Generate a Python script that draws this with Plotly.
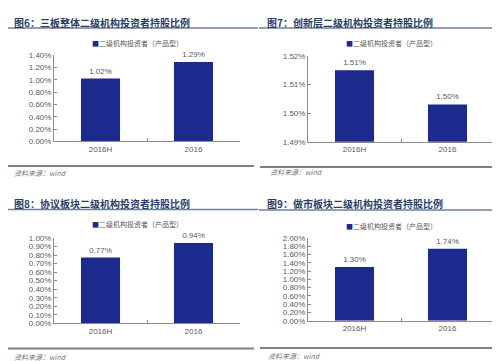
import plotly.graph_objects as go

W, H = 500, 361

categories = ["2016H", "2016"]
titles = [
    "图6：三板整体二级机构投资者持股比例",
    "图7：创新层二级机构投资者持股比例",
    "图8：协议板块二级机构投资者持股比例",
    "图9：做市板块二级机构投资者持股比例",
]
legend_name = "二级机构投资者（产品型）"
source_text = "资料来源：wind"

values_6 = [1.02, 1.29]
labels_6 = ["1.02%", "1.29%"]
values_7 = [1.515, 1.503]
labels_7 = ["1.51%", "1.50%"]
values_8 = [0.77, 0.94]
labels_8 = ["0.77%", "0.94%"]
values_9 = [1.30, 1.74]
labels_9 = ["1.30%", "1.74%"]

ticks_6 = [0.0, 0.2, 0.4, 0.6, 0.8, 1.0, 1.2, 1.4]
ticktext_6 = ["0.00%", "0.20%", "0.40%", "0.60%", "0.80%", "1.00%", "1.20%", "1.40%"]
ticks_7 = [1.49, 1.50, 1.51, 1.52]
ticktext_7 = ["1.49%", "1.50%", "1.51%", "1.52%"]
ticks_8 = [0.0, 0.1, 0.2, 0.3, 0.4, 0.5, 0.6, 0.7, 0.8, 0.9, 1.0]
ticktext_8 = ["0.00%", "0.10%", "0.20%", "0.30%", "0.40%", "0.50%",
              "0.60%", "0.70%", "0.80%", "0.90%", "1.00%"]
ticks_9 = [0.0, 0.2, 0.4, 0.6, 0.8, 1.0, 1.2, 1.4, 1.6, 1.8, 2.0]
ticktext_9 = ["0.00%", "0.20%", "0.40%", "0.60%", "0.80%", "1.00%",
              "1.20%", "1.40%", "1.60%", "1.80%", "2.00%"]

BAR = "#1b2a8c"
TXT = "#5a5a5a"
AX = "#8c8c8c"
FONT = "Liberation Sans, Arial, sans-serif"
CJK = "Noto Sans CJK SC"

def px(x):
    return x / W

def py(y):
    return 1 - y / H

panels = [
    dict(vals=values_6, labs=labels_6, ticks=ticks_6, tt=ticktext_6,
         xd=(46, 232), yd=(44.3, 132.7)),
    dict(vals=values_7, labs=labels_7, ticks=ticks_7, tt=ticktext_7,
         xd=(300, 486), yd=(45, 133)),
    dict(vals=values_8, labs=labels_8, ticks=ticks_8, tt=ticktext_8,
         xd=(46, 232), yd=(231.7, 319.3)),
    dict(vals=values_9, labs=labels_9, ticks=ticks_9, tt=ticktext_9,
         xd=(300, 486), yd=(231.7, 316.7)),
]

deco = [
    dict(tx=4, ty=10.5, uy=16.5, ux=(0, 250), lx=129.5, ly=32, ry=158, rx=(0, 246), sx=4, sy=165),
    dict(tx=257, ty=10.5, uy=16.5, ux=(251, 500), lx=383.7, ly=31.7, ry=159, rx=(252, 498), sx=260, sy=164.5),
    dict(tx=4, ty=196, uy=202.5, ux=(0, 250), lx=129.5, ly=217.7, ry=345, rx=(0, 246), sx=4, sy=353.5),
    dict(tx=257, ty=196.5, uy=203, ux=(251, 500), lx=383.7, ly=219, ry=344.5, rx=(252, 498), sx=258, sy=353),
]

fig = go.Figure()
layout = dict(
    width=W, height=H,
    margin=dict(l=0, r=0, t=0, b=0, pad=0),
    paper_bgcolor="white", plot_bgcolor="rgba(0,0,0,0)",
    showlegend=False,
    font=dict(family=FONT, size=8, color=TXT),
)

annotations = []
shapes = []
for i, p in enumerate(panels):
    n = "" if i == 0 else str(i + 1)
    fig.add_trace(go.Bar(
        x=categories, y=p["vals"], text=p["labs"], textposition="outside",
        textfont=dict(size=8, color=TXT, family=FONT),
        marker=dict(color=BAR, line=dict(width=0)), width=0.42,
        cliponaxis=False, xaxis="x" + n, yaxis="y" + n, name=legend_name,
    ))
    layout["xaxis" + n] = dict(
        domain=[px(p["xd"][0]), px(p["xd"][1])], anchor="y" + n,
        showline=True, linecolor=AX, linewidth=1,
        ticks="inside", ticklen=3, tickcolor=AX, tickson="boundaries",
        tickfont=dict(size=8, color=TXT, family=FONT), showgrid=False,
        fixedrange=True,
    )
    layout["yaxis" + n] = dict(
        domain=[py(p["yd"][1]), py(p["yd"][0])], anchor="x" + n,
        range=[p["ticks"][0], p["ticks"][-1]],
        tickvals=p["ticks"], ticktext=p["tt"],
        showline=True, linecolor=AX, linewidth=1,
        ticks="inside", ticklen=3, tickcolor=AX,
        tickfont=dict(size=8, color=TXT, family=FONT), showgrid=False,
        zeroline=False, fixedrange=True,
    )
    d = deco[i]
    annotations.append(dict(
        text="<b>" + titles[i] + "</b>", x=px(d["tx"]), y=py(d["ty"]),
        xref="paper", yref="paper", xanchor="left", yanchor="middle",
        showarrow=False, font=dict(family=CJK, size=10, color="#2b3d66"),
    ))
    annotations.append(dict(
        text="<span style='color:%s'>■</span>%s" % (BAR, legend_name),
        x=px(d["lx"]), y=py(d["ly"]), xref="paper", yref="paper",
        xanchor="center", yanchor="middle", showarrow=False,
        font=dict(family=CJK, size=7, color=TXT),
    ))
    annotations.append(dict(
        text="<i>" + source_text + "</i>", x=px(d["sx"]), y=py(d["sy"]),
        xref="paper", yref="paper", xanchor="left", yanchor="middle",
        showarrow=False, font=dict(family=CJK, size=7, color="#777777"),
    ))
    shapes.append(dict(
        type="line", xref="paper", yref="paper", layer="above",
        x0=px(d["ux"][0]), x1=px(d["ux"][1]), y0=py(d["uy"]), y1=py(d["uy"]),
        line=dict(color="#6f7f99", width=1.5),
    ))
    shapes.append(dict(
        type="line", xref="paper", yref="paper", layer="above",
        x0=px(d["rx"][0]), x1=px(d["rx"][1]), y0=py(d["ry"]), y1=py(d["ry"]),
        line=dict(color="#808080", width=2),
    ))

layout["annotations"] = annotations
layout["shapes"] = shapes
fig.update_layout(**layout)

fig.write_html("out.html")
